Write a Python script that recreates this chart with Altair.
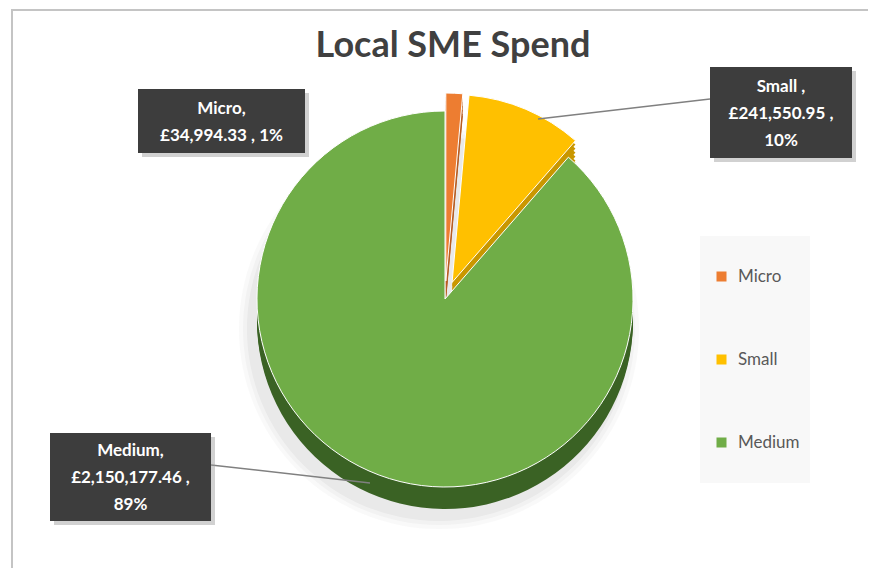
import altair as alt
import pandas as pd
import math

# ---- data ----
categories = ["Micro", "Small", "Medium"]
values = [34994.33, 241550.95, 2150177.46]
percents = [1, 10, 89]
top_colors = ["#ED7D31", "#FFC000", "#70AD47"]
side_colors = ["#B85D22", "#C99700", "#3A6224"]

label_lines = [
    [f"{categories[0]},", f"£{values[0]:,.2f} , {percents[0]}%"],
    [f"{categories[1]} ,", f"£{values[1]:,.2f} ,", f"{percents[1]}%"],
    [f"{categories[2]},", f"£{values[2]:,.2f} ,", f"{percents[2]}%"],
]

df = pd.DataFrame({
    "category": categories,
    "value": values,
    "order": list(range(len(categories))),
    "side": side_colors,
})

# ---- layout (plot-area pixel coordinates) ----
W, H = 860, 560
CX, CY, R = 437, 290, 188
DEPTH = 22
EXPLODE = 18
FONT = "Lato"
LINE_H = 27

base = (
    alt.Chart(df)
    .transform_joinaggregate(total="sum(value)")
    .transform_window(cum="sum(value)", sort=[alt.SortField("order")], frame=[None, 0])
    .transform_calculate(
        a0="(datum.cum - datum.value) / datum.total * 2 * PI",
        a1="datum.cum / datum.total * 2 * PI",
    )
    .transform_calculate(
        mid="(datum.a0 + datum.a1) / 2",
        ex=f"datum.category === 'Medium' ? 0 : {EXPLODE}",
    )
    .transform_calculate(
        px=f"{CX} + datum.ex * sin(datum.mid)",
        py=f"{CY} - datum.ex * cos(datum.mid)",
    )
)

one = alt.Data(values=[{}])

layers = []

# border lines (chart frame: top and left visible)
layers.append(alt.Chart(one).mark_rule(color="#c4c4c4", strokeWidth=2).encode(
    x=alt.value(4), x2=alt.value(W), y=alt.value(1), y2=alt.value(1)))
layers.append(alt.Chart(one).mark_rule(color="#c4c4c4", strokeWidth=2).encode(
    x=alt.value(4), x2=alt.value(4), y=alt.value(0), y2=alt.value(H)))

# soft shadow under pie
for dr, op in [(12, 0.05), (8, 0.06), (4, 0.08)]:
    layers.append(alt.Chart(one).mark_arc(radius=R + dr, theta=0, theta2=2 * math.pi,
                                          color="#808080", opacity=op).encode(
        x=alt.value(CX - 6), y=alt.value(CY + DEPTH + 8)))

# side (depth) of the 3D pie
for d in [4, 8, 12, 16, 20, DEPTH]:
    layers.append(
        base.transform_calculate(pyd=f"datum.py + {d}")
        .mark_arc(radius=R)
        .encode(
            theta=alt.Theta("a0:Q", scale=None),
            theta2="a1:Q",
            x=alt.X("px:Q", scale=None, axis=None),
            y=alt.Y("pyd:Q", scale=None, axis=None),
            color=alt.Color("side:N", scale=None),
        )
    )

# top face
layers.append(
    base.mark_arc(radius=R, stroke="white", strokeWidth=1)
    .encode(
        theta=alt.Theta("a0:Q", scale=None),
        theta2="a1:Q",
        x=alt.X("px:Q", scale=None, axis=None),
        y=alt.Y("py:Q", scale=None, axis=None),
        color=alt.Color(
            "category:N",
            scale=alt.Scale(domain=categories, range=top_colors),
            legend=alt.Legend(
                orient="none", legendX=705, legendY=259, title=None,
                symbolType="square", symbolSize=100, symbolStrokeWidth=0,
                labelFont=FONT, labelFontSize=17, labelColor="#595959",
                labelOffset=8, rowPadding=65, padding=0,
            ),
        ),
    )
)

# title
layers.append(alt.Chart(one).mark_text(
    text="Local SME Spend", font=FONT, fontSize=36, fontWeight="bold",
    color="#404040", align="center", baseline="alphabetic").encode(
    x=alt.value(445), y=alt.value(48)))

# leader lines
leaders = [((702, 90), (530, 110)), ((203, 456), (362, 474))]
for (x1, y1), (x2, y2) in leaders:
    layers.append(alt.Chart(one).mark_rule(color="#808080", strokeWidth=1.5).encode(
        x=alt.value(x1), y=alt.value(y1), x2=alt.value(x2), y2=alt.value(y2)))

# label boxes
boxes = [(130, 80, 297, 144), (702, 58, 844, 149), (42, 424, 203, 512)]
for (bx1, by1, bx2, by2), lines in zip(boxes, label_lines):
    layers.append(alt.Chart(one).mark_rect(color="#9a9a9a", opacity=0.45).encode(
        x=alt.value(bx1 + 4), y=alt.value(by1 + 4), x2=alt.value(bx2 + 4), y2=alt.value(by2 + 4)))
    layers.append(alt.Chart(one).mark_rect(color="#3d3d3d").encode(
        x=alt.value(bx1), y=alt.value(by1), x2=alt.value(bx2), y2=alt.value(by2)))
    first_y = (by1 + by2) / 2 + 1 - (len(lines) - 1) * LINE_H / 2
    layers.append(alt.Chart(one).mark_text(
        font=FONT, fontSize=17, fontWeight="bold", color="white",
        align="center", baseline="middle", lineHeight=LINE_H).encode(
        x=alt.value((bx1 + bx2) / 2), y=alt.value(first_y),
        text=alt.value(lines)))

# legend background
legend_bg = alt.Chart(one).mark_rect(color="#f8f8f8").encode(
    x=alt.value(692), y=alt.value(227), x2=alt.value(802), y2=alt.value(474))

chart = (
    alt.layer(legend_bg, *layers)
    .resolve_scale(color="independent")
    .properties(width=W, height=H, padding=0, background="white",
                autosize=alt.AutoSizeParams(type="fit", contains="padding"))
    .configure_view(strokeWidth=0, stroke=None)
)

chart.save("out.html", embed_options={"renderer": "svg", "actions": False})
